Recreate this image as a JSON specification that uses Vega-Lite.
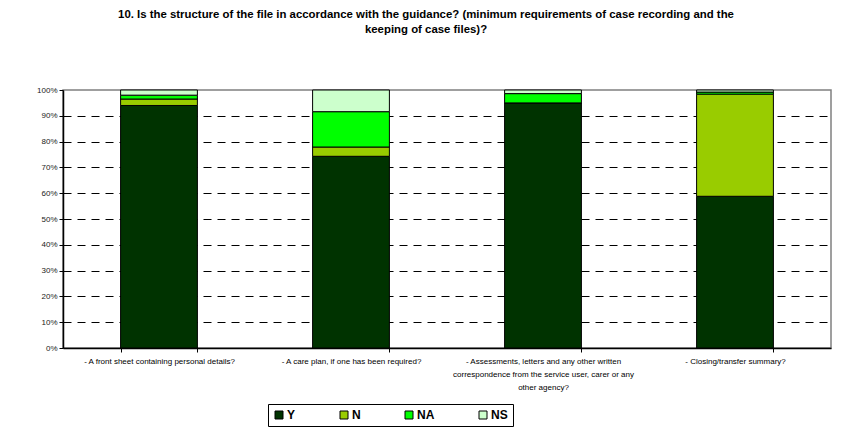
{
  "$schema": "https://vega.github.io/schema/vega-lite/v6.json",
  "autosize": "none",
  "width": 768,
  "height": 258,
  "padding": {"left": 63, "top": 90, "right": 12, "bottom": 95},
  "background": "white",
  "config": {
    "font": "Liberation Sans",
    "view": {"stroke": "#808080", "strokeWidth": 1.5}
  },
  "title": {
    "text": ["10. Is the structure of the file in accordance with the guidance? (minimum requirements of case recording and the", "keeping of case files)?"],
    "fontSize": 11.4,
    "fontWeight": "bold",
    "color": "black",
    "lineHeight": 15,
    "anchor": "middle",
    "dx": -21,
    "offset": 51
  },
  "data": {
    "values": [
      {"item": "- A front sheet containing personal details?", "response": "Y", "ord": 1, "pct": 0.94},
      {"item": "- A front sheet containing personal details?", "response": "N", "ord": 2, "pct": 0.025},
      {"item": "- A front sheet containing personal details?", "response": "NA", "ord": 3, "pct": 0.015},
      {"item": "- A front sheet containing personal details?", "response": "NS", "ord": 4, "pct": 0.02},
      {"item": "- A care plan, if one has been required?", "response": "Y", "ord": 1, "pct": 0.743},
      {"item": "- A care plan, if one has been required?", "response": "N", "ord": 2, "pct": 0.036},
      {"item": "- A care plan, if one has been required?", "response": "NA", "ord": 3, "pct": 0.137},
      {"item": "- A care plan, if one has been required?", "response": "NS", "ord": 4, "pct": 0.084},
      {"item": "- Assessments, letters and any other written correspondence from the service user, carer or any other agency?", "response": "Y", "ord": 1, "pct": 0.95},
      {"item": "- Assessments, letters and any other written correspondence from the service user, carer or any other agency?", "response": "N", "ord": 2, "pct": 0.0},
      {"item": "- Assessments, letters and any other written correspondence from the service user, carer or any other agency?", "response": "NA", "ord": 3, "pct": 0.036},
      {"item": "- Assessments, letters and any other written correspondence from the service user, carer or any other agency?", "response": "NS", "ord": 4, "pct": 0.014},
      {"item": "- Closing/transfer summary?", "response": "Y", "ord": 1, "pct": 0.588},
      {"item": "- Closing/transfer summary?", "response": "N", "ord": 2, "pct": 0.396},
      {"item": "- Closing/transfer summary?", "response": "NA", "ord": 3, "pct": 0.008},
      {"item": "- Closing/transfer summary?", "response": "NS", "ord": 4, "pct": 0.008}
    ]
  },
  "mark": {"type": "bar", "stroke": "black", "strokeWidth": 1},
  "encoding": {
    "x": {
      "field": "item",
      "type": "nominal",
      "sort": null,
      "title": null,
      "scale": {"paddingInner": 0.6, "paddingOuter": 0.3},
      "axis": {
        "labelAngle": 0,
        "labelFontSize": 8,
        "labelColor": "black",
        "labelPadding": 5,
        "labelLimit": 0,
        "labelLineHeight": 13,
        "labelExpr": "indexof(datum.label, 'Assessments') >= 0 ? ['- Assessments, letters and any other written', 'correspondence from the service user, carer or any', 'other agency?'] : datum.label",
        "tickBand": "extent",
        "tickSize": 4,
        "tickColor": "black",
        "domainColor": "black",
        "domainWidth": 1.5
      }
    },
    "y": {
      "field": "pct",
      "type": "quantitative",
      "stack": "zero",
      "title": null,
      "scale": {"domain": [0, 1], "nice": false},
      "axis": {
        "values": [0, 0.1, 0.2, 0.3, 0.4, 0.5, 0.6, 0.7, 0.8, 0.9, 1],
        "format": ".0%",
        "labelFontSize": 8,
        "labelColor": "#222",
        "labelPadding": 2,
        "tickSize": 4,
        "tickColor": "black",
        "domainColor": "black",
        "domainWidth": 1.5,
        "grid": true,
        "gridColor": "black",
        "gridDash": [8, 6],
        "gridWidth": 1,
        "gridOpacity": {"condition": {"test": "datum.value == 0 || datum.value == 1", "value": 0}, "value": 1}
      }
    },
    "color": {
      "field": "response",
      "type": "nominal",
      "scale": {"domain": ["Y", "N", "NA", "NS"], "range": ["#003300", "#99CC00", "#00FF00", "#CCFFCC"]},
      "legend": {
        "title": null,
        "orient": "none",
        "direction": "horizontal",
        "legendX": 205,
        "legendY": 314,
        "symbolType": "square",
        "symbolSize": 64,
        "symbolStrokeColor": "black",
        "symbolStrokeWidth": 1,
        "labelFontSize": 12,
        "labelFontWeight": "bold",
        "labelColor": "black",
        "labelOffset": 2,
        "columnPadding": 42,
        "strokeColor": "black",
        "padding": 5
      }
    },
    "order": {"field": "ord", "type": "quantitative"}
  }
}
